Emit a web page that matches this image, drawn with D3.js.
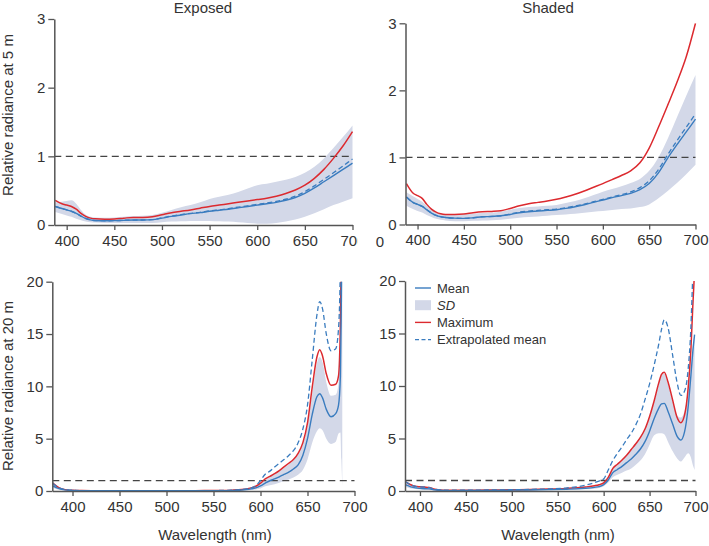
<!DOCTYPE html>
<html>
<head>
<meta charset="utf-8">
<script src="https://cdn.jsdelivr.net/npm/d3@7"></script>
<style>
body { margin: 0; background: #fff; }
text { font-family: "Liberation Sans", Arial, sans-serif; fill: #333; }
</style>
</head>
<body>
<svg id="fig" width="709" height="546"></svg>
<script>
// wavelength grids (nm)
var wl5 = [388, 395, 400, 405, 410, 415, 420, 425, 430, 440, 450, 460, 470, 480, 490, 500, 510, 520, 530, 540,
    550, 560, 570, 580, 590, 600, 610, 620, 630, 640, 650, 660, 670, 680, 690, 700];
var wl20exp = [379, 385, 390, 395, 400, 410, 420, 440, 460, 480, 500, 520, 540, 560, 570, 580, 585, 590, 595, 600,
    605, 610, 615, 620, 625, 630, 635, 640, 645, 650, 655, 660, 663, 666, 670, 675, 680, 683, 685, 686, 687];
var wl20sha = [384, 390, 395, 400, 405, 410, 415, 420, 430, 440, 460, 480, 500, 520, 540, 560, 570, 580, 590, 595,
    600, 605, 610, 615, 620, 625, 630, 635, 640, 645, 650, 655, 660, 663, 666, 670, 675, 680, 684, 688, 692, 695, 697, 699];

// exposed, 5 m
var exp5Mean = [.27, .24, .22, .2, .17, .13, .095, .075, .065, .062, .063, .068, .072, .073, .078, .1, .125, .145, .165, .18,
    .2, .215, .23, .25, .27, .29, .31, .33, .36, .4, .46, .54, .63, .72, .81, .9];
var exp5Max = [.36, .31, .29, .27, .23, .17, .125, .1, .09, .085, .088, .1, .11, .11, .12, .15, .18, .2, .22, .245,
    .27, .29, .31, .33, .35, .37, .39, .42, .46, .51, .58, .68, .81, .97, 1.15, 1.36];
var exp5Extra = [.27, .24, .22, .2, .17, .13, .095, .075, .065, .062, .063, .068, .072, .073, .078, .105, .13, .15, .17, .185,
    .205, .22, .24, .26, .28, .3, .32, .345, .375, .42, .485, .57, .665, .76, .86, .96];
var exp5SdHi = [.33, .34, .35, .36, .31, .22, .15, .12, .11, .105, .11, .12, .13, .135, .145, .18, .22, .26, .29, .33,
    .38, .41, .44, .48, .53, .58, .6, .63, .66, .7, .76, .85, .97, 1.12, 1.28, 1.45];
var exp5SdLo = [.19, .16, .14, .12, .09, .07, .05, .04, .035, .03, .03, .03, .03, .03, .03, .04, .05, .055, .06, .06,
    .06, .055, .05, .04, .03, .02, .02, .03, .05, .08, .12, .17, .23, .29, .34, .39];

// shaded, 5 m
var sha5Mean = [.41, .33, .3, .27, .22, .17, .135, .115, .105, .095, .092, .1, .115, .12, .13, .15, .175, .19, .2, .21,
    .22, .24, .265, .295, .33, .365, .4, .43, .465, .52, .61, .77, .99, 1.19, 1.38, 1.57];
var sha5Max = [.61, .47, .43, .39, .3, .23, .185, .16, .15, .148, .155, .175, .19, .195, .205, .24, .28, .31, .33, .35,
    .375, .41, .45, .5, .555, .61, .67, .73, .8, .92, 1.14, 1.45, 1.78, 2.12, 2.5, 3.0];
var sha5Extra = [.41, .33, .3, .27, .22, .17, .135, .115, .105, .095, .092, .1, .115, .12, .13, .155, .185, .2, .21, .22,
    .23, .25, .275, .305, .34, .375, .41, .445, .485, .55, .65, .82, 1.04, 1.25, 1.45, 1.65];
var sha5SdHi = [.48, .42, .38, .34, .28, .22, .18, .16, .15, .145, .15, .16, .17, .18, .19, .22, .245, .26, .27, .28,
    .29, .32, .35, .39, .44, .49, .53, .57, .62, .68, .8, 1.0, 1.28, 1.6, 1.92, 2.23];
var sha5SdLo = [.28, .23, .2, .18, .14, .11, .085, .07, .06, .05, .05, .055, .06, .065, .07, .085, .1, .11, .12, .13,
    .14, .15, .16, .175, .19, .2, .215, .23, .24, .26, .3, .39, .5, .62, .75, .89];

// exposed, 20 m
var exp20Mean = [.5, .25, .13, .08, .05, .03, .02, .02, .02, .02, .02, .02, .02, .03, .05, .09, .13, .2, .3, .5,
    .75, .98, 1.15, 1.35, 1.58, 1.8, 2.1, 2.5, 3.4, 5.0, 7.3, 9.0, 9.3, 8.9, 7.8, 7.1, 7.4, 8.2, 11, 18, 30];
var exp20Max = [.75, .35, .18, .1, .07, .04, .03, .03, .03, .03, .03, .03, .04, .05, .08, .14, .2, .3, .45, .75,
    1.15, 1.4, 1.65, 1.95, 2.3, 2.65, 3.0, 3.6, 4.6, 6.5, 9.9, 12.8, 13.5, 12.9, 11.2, 10.1, 10.2, 11.0, 16, 24, 34];
var exp20Extra = [.75, .35, .18, .1, .07, .04, .03, .03, .03, .03, .03, .03, .04, .05, .08, .14, .2, .3, .5, 1.0,
    1.6, 1.9, 2.3, 2.65, 3.0, 3.4, 3.85, 4.6, 5.9, 8.2, 12.5, 16.8, 18.1, 17.4, 15.0, 13.4, 13.6, 15.5, 22, 30, 40];
var exp20SdHi = [.75, .4, .2, .12, .08, .05, .04, .035, .035, .035, .035, .04, .045, .05, .08, .14, .2, .3, .45, .7,
    1.05, 1.35, 1.6, 1.9, 2.2, 2.55, 2.95, 3.5, 4.5, 6.3, 9.3, 12.2, 12.8, 12.3, 10.4, 9.1, 9.2, 10.3, 15, 24, 30];
var exp20SdLo = [.3, .12, .06, .03, .02, .01, .01, .01, .01, .01, .01, .01, .01, .01, .02, .05, .07, .1, .15, .25,
    .45, .55, .65, .8, .95, 1.1, 1.3, 1.55, 2.0, 3.0, 4.6, 5.7, 6.0, 5.8, 5.0, 4.5, 4.7, 5.5, 5.6, 3, .4];

// shaded, 20 m
var sha20Mean = [.6, .4, .3, .25, .22, .2, .12, .07, .04, .04, .05, .06, .08, .1, .13, .17, .2, .26, .35, .42,
    .6, 1.05, 1.75, 2.05, 2.35, 2.7, 3.05, 3.5, 4.0, 4.7, 5.7, 6.9, 7.9, 8.3, 8.35, 7.6, 6.4, 5.2, 4.85, 5.6,
    8.0, 11.0, 13.2, 14.9];
var sha20Max = [.9, .6, .45, .4, .37, .33, .2, .12, .07, .07, .08, .1, .12, .15, .19, .25, .3, .38, .5, .6,
    .78, 1.3, 2.15, 2.55, 2.95, 3.4, 3.95, 4.5, 5.1, 5.9, 7.1, 8.6, 10.3, 11.1, 11.3, 10.4, 8.7, 7.0, 6.5, 7.2,
    9.8, 13.5, 17.5, 21];
var sha20Extra = [.9, .6, .45, .4, .37, .33, .2, .12, .07, .07, .08, .1, .12, .15, .2, .3, .4, .55, .8, .95,
    1.15, 2.0, 2.9, 3.6, 4.2, 4.9, 5.5, 6.3, 7.3, 8.7, 10.2, 12.0, 14.0, 15.4, 16.3, 15.6, 13.0, 10.3, 9.1, 9.5,
    11.6, 15.6, 20.5, 25];
var sha20SdHi = [.85, .55, .42, .35, .33, .3, .18, .1, .06, .06, .07, .08, .11, .14, .18, .24, .29, .37, .48, .58,
    .75, 1.3, 2.1, 2.55, 2.95, 3.4, 3.95, 4.5, 5.1, 5.9, 7.0, 8.5, 10.2, 11.0, 11.2, 10.2, 8.6, 7.2, 7.0, 7.6,
    9.5, 12.0, 13.8, 14.9];
var sha20SdLo = [.4, .25, .2, .15, .12, .1, .06, .04, .02, .02, .03, .04, .05, .06, .08, .1, .12, .16, .22, .28,
    .45, .8, 1.3, 1.55, 1.75, 1.95, 2.15, 2.5, 2.9, 3.5, 4.4, 5.3, 5.5, 5.5, 5.4, 4.7, 3.8, 3.1, 2.8, 3.2,
    3.6, 3.2, 2.5, 2.0];

var xTicks = [400, 450, 500, 550, 600, 650, 700];
var yTicks5 = [0, 1, 2, 3];
var yTicks20 = [0, 5, 10, 15, 20];
var legendLabels = ["Mean", "SD", "Maximum", "Extrapolated mean"];

var colMean = "#3a7cbf",
    colMax = "#dc2a2f",
    colSd = "#d3d8e8",
    colAxis = "#555";

var svg = d3.select("#fig");
var defs = svg.append("defs");

function panel(p) {
    var x = d3.scaleLinear().domain(p.xDomain).range(p.xRange);
    var y = d3.scaleLinear().domain(p.yDomain).range(p.yRange);
    var g = svg.append("g");

    // clip the marks to the plot box
    defs.append("clipPath").attr("id", "clip-" + p.id)
        .append("rect")
        .attr("x", p.xRange[0]).attr("y", p.yRange[1])
        .attr("width", p.xRange[1] - p.xRange[0] + 2)
        .attr("height", p.yRange[0] - p.yRange[1]);

    var rows = p.wl.map(function (w, i) {
        return { w: w, mean: p.mean[i], max: p.max[i], extra: p.extra[i], lo: p.lo[i], hi: p.hi[i] };
    });

    var marks = g.append("g").attr("clip-path", "url(#clip-" + p.id + ")");

    marks.append("path")
        .datum(rows)
        .attr("fill", colSd)
        .attr("d", d3.area().curve(d3.curveMonotoneX)
            .x(function (d) { return x(d.w); })
            .y0(function (d) { return y(d.lo); })
            .y1(function (d) { return y(d.hi); }));

    // reference line at 1
    marks.append("line")
        .attr("x1", p.xRange[0]).attr("x2", p.xRange[1])
        .attr("y1", y(1)).attr("y2", y(1))
        .attr("stroke", "#444").attr("stroke-width", 1.3)
        .attr("stroke-dasharray", "7,4.5");

    function line(key) {
        return d3.line().curve(d3.curveMonotoneX)
            .x(function (d) { return x(d.w); })
            .y(function (d) { return y(d[key]); });
    }

    marks.append("path").datum(rows)
        .attr("fill", "none").attr("stroke", colMax).attr("stroke-width", 1.5)
        .attr("d", line("max"));
    marks.append("path").datum(rows)
        .attr("fill", "none").attr("stroke", colMean).attr("stroke-width", 1.3)
        .attr("stroke-dasharray", "5,3")
        .attr("d", line("extra"));
    marks.append("path").datum(rows)
        .attr("fill", "none").attr("stroke", colMean).attr("stroke-width", 1.4)
        .attr("d", line("mean"));

    var gx = g.append("g")
        .attr("transform", "translate(0," + p.yRange[0] + ")")
        .call(d3.axisBottom(x).tickValues(xTicks).tickSize(5).tickSizeOuter(0).tickPadding(5));
    var gy = g.append("g")
        .attr("transform", "translate(" + p.xRange[0] + ",0)")
        .call(d3.axisLeft(y).tickValues(p.yTicks).tickFormat(d3.format("d"))
            .tickSize(6).tickSizeOuter(0).tickPadding(3));

    [gx, gy].forEach(function (a) {
        a.select(".domain").attr("stroke", colAxis).attr("stroke-width", 1.5);
        a.selectAll(".tick line").attr("stroke", colAxis).attr("stroke-width", 1.3);
        a.selectAll(".tick text").style("font-size", "15px").attr("fill", "#333")
            .style("font-family", "'Liberation Sans', Arial, sans-serif");
    });

    if (p.clipTicks) {
        defs.append("clipPath").attr("id", "tclip-" + p.id)
            .append("rect").attr("x", 0).attr("y", -10).attr("width", p.clipTicks).attr("height", 40);
        gx.attr("clip-path", "url(#tclip-" + p.id + ")");
    }
    return g;
}

panel({ id: "tl", xDomain: [387, 700], xRange: [54.3, 352.5], yDomain: [0, 3], yRange: [225, 19], yTicks: yTicks5,
    wl: wl5, mean: exp5Mean, max: exp5Max, extra: exp5Extra, lo: exp5SdLo, hi: exp5SdHi, clipTicks: 357.5 });
panel({ id: "tr", xDomain: [387, 700], xRange: [405.5, 695.5], yDomain: [0, 3], yRange: [224.5, 23.3], yTicks: yTicks5,
    wl: wl5, mean: sha5Mean, max: sha5Max, extra: sha5Extra, lo: sha5SdLo, hi: sha5SdHi });
panel({ id: "bl", xDomain: [378.5, 700], xRange: [52.3, 354.5], yDomain: [0, 20], yRange: [491, 281.7], yTicks: yTicks20,
    wl: wl20exp, mean: exp20Mean, max: exp20Max, extra: exp20Extra, lo: exp20SdLo, hi: exp20SdHi });
panel({ id: "br", xDomain: [383.7, 700], xRange: [405, 695.5], yDomain: [0, 20], yRange: [491, 281], yTicks: yTicks20,
    wl: wl20sha, mean: sha20Mean, max: sha20Max, extra: sha20Extra, lo: sha20SdLo, hi: sha20SdHi });

// stray tick digit between the top panels
svg.append("text").attr("x", 380).attr("y", 247).attr("text-anchor", "middle")
    .style("font-size", "15px").text("0");

// titles
svg.append("text").attr("x", 203).attr("y", 13).attr("text-anchor", "middle").style("font-size", "15px").text("Exposed");
svg.append("text").attr("x", 548).attr("y", 13).attr("text-anchor", "middle").style("font-size", "15px").text("Shaded");
svg.append("text").attr("transform", "translate(13,115) rotate(-90)").attr("text-anchor", "middle")
    .style("font-size", "15px").text("Relative radiance at 5 m");
svg.append("text").attr("transform", "translate(13,386) rotate(-90)").attr("text-anchor", "middle")
    .style("font-size", "15px").text("Relative radiance at 20 m");
svg.append("text").attr("x", 215).attr("y", 540).attr("text-anchor", "middle").style("font-size", "15px").text("Wavelength (nm)");
svg.append("text").attr("x", 558).attr("y", 540).attr("text-anchor", "middle").style("font-size", "15px").text("Wavelength (nm)");

// legend
var leg = svg.append("g").attr("transform", "translate(415,288)");
legendLabels.forEach(function (lab, i) {
    var row = leg.append("g").attr("transform", "translate(0," + (i * 17.2) + ")");
    if (i === 1) {
        row.append("rect").attr("x", 0).attr("y", -5).attr("width", 16).attr("height", 10).attr("fill", colSd);
    } else {
        row.append("line").attr("x1", 0).attr("x2", 16).attr("y1", 0).attr("y2", 0)
            .attr("stroke", i === 2 ? colMax : colMean).attr("stroke-width", 1.4)
            .attr("stroke-dasharray", i === 3 ? "4,2.5" : null);
    }
    row.append("text").attr("x", 22).attr("y", 4.5).style("font-size", "13px")
        .style("font-style", i === 1 ? "italic" : "normal").text(lab);
});
</script>
</body>
</html>
